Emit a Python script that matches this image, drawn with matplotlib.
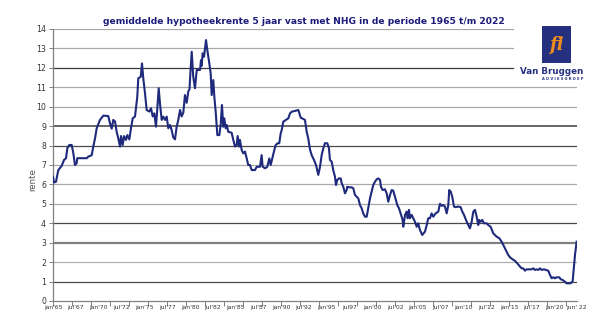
import matplotlib
matplotlib.use("Agg")
import matplotlib.pyplot as plt
from matplotlib.patches import Rectangle
import numpy as np

# ---- data (decimal year, rate %) ----
years = [
    1965.00, 1965.11, 1965.33, 1965.58, 1965.95, 1966.21, 1966.43, 1966.57, 1966.79, 1967.05,
    1967.23, 1967.41, 1967.60, 1967.66, 1968.70, 1968.87, 1969.24, 1969.42, 1969.61, 1969.79,
    1970.15, 1970.52, 1971.06, 1971.25, 1971.44, 1971.61, 1971.80, 1971.98, 1972.16, 1972.35,
    1972.46, 1972.64, 1972.79, 1973.00, 1973.15, 1973.37, 1973.55, 1973.74, 1973.99, 1974.10,
    1974.24, 1974.35, 1974.62, 1974.76, 1974.90, 1975.09, 1975.27, 1975.56, 1975.75, 1975.93,
    1976.11, 1976.29, 1976.44, 1976.59, 1976.73, 1976.92, 1977.09, 1977.28, 1977.47, 1977.64,
    1977.83, 1978.01, 1978.19, 1978.38, 1978.56, 1978.74, 1978.93, 1979.11, 1979.29, 1979.36,
    1979.47, 1979.66, 1979.84, 1979.97, 1980.02, 1980.21, 1980.38, 1980.57, 1980.76, 1980.93,
    1981.12, 1981.23, 1981.30, 1981.41, 1981.56, 1981.78, 1981.92, 1982.14, 1982.29, 1982.40,
    1982.58, 1982.69, 1982.84, 1983.02, 1983.24, 1983.39, 1983.53, 1983.67, 1983.78, 1983.94,
    1984.05, 1984.22, 1984.59, 1984.77, 1984.96, 1985.14, 1985.25, 1985.39, 1985.50, 1985.69,
    1985.87, 1986.05, 1986.24, 1986.41, 1986.60, 1986.79, 1987.15, 1987.34, 1987.70, 1987.88,
    1987.99, 1988.25, 1988.50, 1988.72, 1988.87, 1989.09, 1989.23, 1989.42, 1989.64, 1989.81,
    1989.97, 1990.08, 1990.25, 1990.55, 1990.80, 1990.99, 1991.17, 1991.90, 1992.16, 1992.63,
    1992.82, 1992.99, 1993.18, 1993.37, 1993.62, 1993.84, 1994.09, 1994.28, 1994.46, 1994.64,
    1994.82, 1995.08, 1995.26, 1995.37, 1995.56, 1995.73, 1995.92, 1996.03, 1996.17, 1996.36,
    1996.55, 1996.66, 1996.83, 1997.02, 1997.20, 1997.27, 1997.49, 1997.75, 1997.93, 1998.11,
    1998.30, 1998.48, 1998.66, 1998.85, 1999.02, 1999.21, 1999.40, 1999.57, 1999.76, 1999.94,
    2000.12, 2000.31, 2000.49, 2000.67, 2000.86, 2000.96, 2001.15, 2001.40, 2001.59, 2001.77,
    2001.95, 2002.14, 2002.31, 2002.50, 2002.75, 2002.94, 2003.12, 2003.34, 2003.41, 2003.60,
    2003.78, 2003.89, 2004.04, 2004.14, 2004.33, 2004.51, 2004.69, 2004.88, 2005.05, 2005.24,
    2005.49, 2005.79, 2005.98, 2006.15, 2006.34, 2006.52, 2006.70, 2006.96, 2007.25, 2007.43,
    2007.62, 2007.79, 2007.98, 2008.17, 2008.35, 2008.45, 2008.61, 2008.78, 2008.97, 2009.15,
    2009.44, 2009.70, 2009.88, 2010.07, 2010.29, 2010.54, 2010.72, 2010.91, 2011.09, 2011.27,
    2011.46, 2011.63, 2011.74, 2011.90, 2012.07, 2012.26, 2012.55, 2012.73, 2012.99, 2013.28,
    2013.65, 2013.94, 2014.20, 2014.38, 2014.56, 2014.75, 2014.92, 2015.11, 2015.41, 2015.66,
    2015.91, 2016.21, 2016.39, 2016.57, 2016.75, 2016.94, 2017.49, 2017.66, 2017.85, 2018.04,
    2018.21, 2018.40, 2018.58, 2018.84, 2019.06, 2019.31, 2019.50, 2019.68, 2019.86, 2020.04,
    2020.23, 2020.52, 2020.67, 2020.89, 2021.14, 2021.32, 2021.76, 2021.98, 2022.13, 2022.24,
    2022.42,
]
rates = [
    6.40, 6.10, 6.14, 6.74, 6.95, 7.26, 7.35, 7.86, 8.03, 8.03,
    7.60, 7.00, 7.10, 7.35, 7.35, 7.43, 7.50, 7.95, 8.37, 8.89,
    9.32, 9.54, 9.52, 9.15, 8.87, 9.32, 9.24, 8.71, 8.37, 7.95,
    8.49, 8.03, 8.49, 8.29, 8.54, 8.32, 8.89, 9.40, 9.49, 9.92,
    10.50, 11.46, 11.54, 12.23, 11.46, 10.69, 9.83, 9.75, 9.92, 9.50,
    9.66, 8.97, 9.92, 10.95, 10.17, 9.32, 9.49, 9.32, 9.49, 8.89,
    9.06, 8.80, 8.42, 8.32, 8.97, 9.32, 9.83, 9.50, 9.70, 10.05,
    10.60, 10.20, 10.80, 10.90, 11.37, 12.83, 11.54, 10.95, 11.89, 11.89,
    11.89, 12.40, 12.10, 12.75, 12.57, 13.43, 12.92, 12.23, 11.72, 10.60,
    11.37, 10.52, 9.74, 8.54, 8.54, 9.10, 10.09, 8.97, 9.40, 8.89,
    9.06, 8.71, 8.66, 8.29, 7.95, 8.03, 8.49, 7.95, 8.29, 7.77,
    7.60, 7.69, 7.34, 7.00, 7.00, 6.74, 6.74, 6.91, 6.91, 7.51,
    6.91, 6.83, 6.91, 7.34, 7.00, 7.43, 7.69, 8.03, 8.12, 8.12,
    8.63, 8.80, 9.23, 9.32, 9.40, 9.66, 9.74, 9.83, 9.44, 9.32,
    8.71, 8.37, 7.80, 7.50, 7.26, 7.00, 6.49, 6.91, 7.51, 7.86,
    8.12, 8.12, 7.86, 7.26, 7.17, 6.74, 6.40, 5.97, 6.23, 6.31,
    6.31, 6.06, 5.88, 5.54, 5.71, 5.88, 5.85, 5.85, 5.80, 5.46,
    5.37, 5.28, 4.94, 4.77, 4.51, 4.34, 4.34, 4.77, 5.28, 5.63,
    5.97, 6.14, 6.26, 6.31, 6.23, 5.88, 5.71, 5.75, 5.54, 5.11,
    5.45, 5.71, 5.68, 5.37, 4.94, 4.77, 4.51, 4.17, 3.82, 4.43,
    4.60, 4.26, 4.69, 4.26, 4.43, 4.26, 4.08, 3.82, 4.00, 3.65,
    3.40, 3.57, 3.91, 4.26, 4.26, 4.51, 4.34, 4.51, 4.60, 5.00,
    4.90, 4.94, 4.86, 4.51, 4.94, 5.71, 5.63, 5.37, 4.86, 4.83,
    4.86, 4.83, 4.60, 4.43, 4.17, 3.91, 3.74, 4.08, 4.60, 4.69,
    4.34, 3.91, 4.17, 4.08, 4.17, 4.00, 4.00, 3.91, 3.82, 3.48,
    3.31, 3.23, 3.05, 2.88, 2.71, 2.54, 2.37, 2.25, 2.14, 2.07,
    1.94, 1.77, 1.68, 1.68, 1.56, 1.63, 1.63, 1.68, 1.60, 1.63,
    1.60, 1.68, 1.60, 1.63, 1.60, 1.56, 1.34, 1.17, 1.22, 1.17,
    1.22, 1.22, 1.12, 1.08, 0.99, 0.91, 0.91, 1.00, 1.77, 2.37,
    3.05,
]

xtick_labels = ["jan'65", "jul'67", "jan'70", "jul'72", "jan'75", "jul'77", "jan'80",
                "jul'82", "jan'85", "jul'87", "jan'90", "jul'92", "jan'95", "jul97",
                "jan'00", "jul'02", "jan'05", "jul'07", "jan'10", "jul'12", "jan'15",
                "jul'17", "jan'20", "jun' 22"]
xtick_positions = [1965.0 + 2.5 * i for i in range(23)] + [2022.42]
ytick_values = list(range(0, 15))

title = "gemiddelde hypotheekrente 5 jaar vast met NHG in de periode 1965 t/m 2022"
ylabel = "rente"

# ---- figure ----
W, H = 605, 324
fig = plt.figure(figsize=(W / 100, H / 100), dpi=100)
fig.patch.set_facecolor("white")

def fx(px):
    return px / W

def fy(py):
    return 1 - py / H

ax = fig.add_axes([fx(53), fy(301), fx(577) - fx(53), fy(29) - fy(301)])
ax.set_xlim(1965.0, 2022.46)
ax.set_ylim(0, 14)
ax.patch.set_alpha(0)

# gridlines (styled to resemble the reference)
grid_style = {
    1: ("#4a4a4a", 0.9), 2: ("#b0b0b0", 0.9), 3: ("#808080", 1.6), 4: ("#4a4a4a", 0.9),
    5: ("#a8a8a8", 0.9), 6: ("#a8a8a8", 0.9), 7: ("#a8a8a8", 0.9), 8: ("#4a4a4a", 0.9),
    9: ("#666666", 1.4), 10: ("#a8a8a8", 0.9), 11: ("#a8a8a8", 0.9), 12: ("#3a3a3a", 0.9),
    13: ("#a8a8a8", 0.9), 14: ("#a8a8a8", 0.9),
}
for v in ytick_values[1:]:
    c, lw = grid_style[v]
    xmax = 0.878 if v >= 12 else 1.0
    ax.axhline(v, xmin=0, xmax=xmax, color=c, lw=lw, zorder=1)

ax.plot(years, rates, color="#1f2a7c", lw=1.5, zorder=3, solid_joinstyle="round")

for s in ["top", "right"]:
    ax.spines[s].set_visible(False)
ax.spines["left"].set_color("#808080")
ax.spines["bottom"].set_color("#808080")
ax.spines["left"].set_linewidth(0.9)
ax.spines["bottom"].set_linewidth(0.9)

ax.set_yticks(ytick_values)
ax.set_yticklabels([str(v) for v in ytick_values], fontsize=5.6, color="#333333")
ax.tick_params(axis="y", length=3, width=0.7, color="#808080", pad=2)

# tick marks every 25 months, labels every 30 months
ax.xaxis.remove_overlapping_locs = False
ax.set_xticks([1965.0 + k * 25 / 12 for k in range(28)])
ax.set_xticklabels([])
ax.tick_params(axis="x", which="major", length=3.5, width=0.7, color="#808080")
ax.set_xticks(xtick_positions, minor=True)
ax.set_xticklabels(xtick_labels, minor=True, fontsize=4.3, color="#333333")
ax.tick_params(axis="x", which="minor", length=0, pad=3)

fig.text(fx(33), fy(180), ylabel, rotation=90, fontsize=6.2, color="#555555",
         ha="center", va="center")

fig.text(fx(304), fy(21), title, fontsize=6.6, fontweight="bold", color="#1c1c7a",
         ha="center", va="center", family="DejaVu Sans")

# logo
logo_ax = fig.add_axes([0, 0, 1, 1])
logo_ax.set_xlim(0, W)
logo_ax.set_ylim(H, 0)
logo_ax.axis("off")
logo_ax.add_patch(Rectangle((541.7, 26), 29, 37, facecolor="#25307e", edgecolor="none"))
logo_ax.text(556, 45, "fi", fontsize=13, fontweight="bold", style="italic",
             color="#f08c1e", ha="center", va="center", family="DejaVu Serif")
logo_ax.text(552, 71.5, "Van Bruggen", fontsize=6.3, fontweight="bold", color="#25307e",
             ha="center", va="center")
logo_ax.text(563, 79, "A D V I E S G R O E P", fontsize=2.6, fontweight="bold",
             color="#25307e", ha="center", va="center")

fig.savefig("out.png", dpi=100, facecolor="white")
